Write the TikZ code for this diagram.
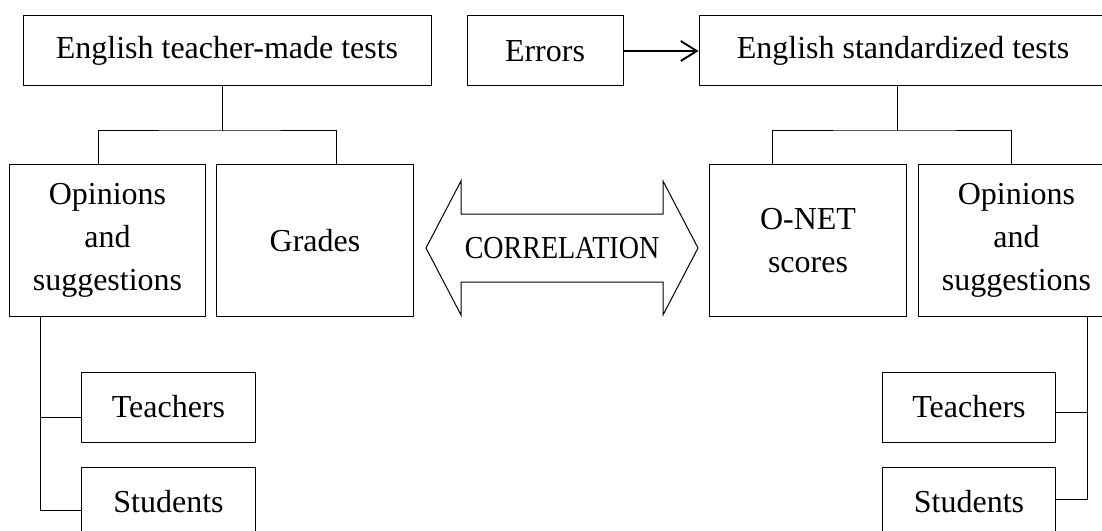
\documentclass[tikz,border=0pt]{standalone}
\usepackage{fontspec}
\usepackage{graphicx}
\setmainfont{Liberation Serif}
\usetikzlibrary{calc,arrows.meta}
\begin{document}
\begin{tikzpicture}[x=0.75pt,y=-0.75pt,
  box/.style={draw,line width=0.75pt,inner sep=0pt,align=center,
              font=\fontsize{24}{32}\selectfont},
  wide/.style={box,minimum width=306pt,minimum height=52.5pt},
  tall/.style={box,minimum width=147.5pt,minimum height=113.25pt},
  small/.style={box,minimum width=130pt,minimum height=52.5pt},
  link/.style={line width=0.75pt},
]
\useasboundingbox (0,0) rectangle (1102,531);
\clip (0,0) rectangle (1102,531);

% top row
\node[wide] (tl) at (227,51) {English teacher-made tests};
\node[box,minimum width=117pt,minimum height=52.5pt] (err) at (545,51) {Errors};
\node[wide] (tr) at (903,51) {English standardized tests};

% second row
\node[tall] (op1) at (107.5,240.5) {Opinions\\and\\suggestions};
\node[tall] (gr) at (315,240.5) {Grades};
\node[tall] (onet) at (808,240.5) {O-NET\\scores};
\node[tall] (op2) at (1016.5,240.5) {Opinions\\and\\suggestions};

% respondents
\node[small] (t1) at (168.5,407) {Teachers};
\node[small] (s1) at (168.5,502) {Students};
\node[small] (t2) at (969,407) {Teachers};
\node[small] (s2) at (969,502) {Students};

% errors feed the standardized tests
\draw[line width=1.4pt,-{Straight Barb[length=12pt,width=15pt,line width=1.4pt]}] (err) -- (tr);

% left tree
\coordinate (lj) at (222,131);
\draw[link] (tl.south -| lj) -- (lj);
\draw[link] ($(op1.north)+(-9.5,0)$) |- (lj) -| ($(gr.north)+(21,0)$);
\coordinate (lv) at ($(op1.south west)+(32,0)$);
\draw[link] (lv) |- ($(s1.west)+(0,8)$);
\draw[link] (lv |- t1.west) ++(0,10) -- ($(t1.west)+(0,10)$);

% right tree
\coordinate (rj) at (897,131);
\draw[link] (tr.south -| rj) -- (rj);
\draw[link] ($(onet.north)+(-36,0)$) |- (rj) -| ($(op2.north)+(-5.5,0)$);
\coordinate (rv) at ($(op2.south west)+(170,0)$);
\draw[link] (rv) |- ($(s2.east)+(0,-3)$);
\draw[link] (rv |- t2.east) ++(0,5) -- ($(t2.east)+(0,5)$);

% correlation double arrow
\node[font=\fontsize{24}{32}\selectfont,inner sep=0pt] (corr) at (562,248)
  {\scalebox{0.875}[1]{CORRELATION}};
\draw[link] (426,248) -- (461,181) -- (461,214) -- (663,214) -- (663,181)
  -- (698,248) -- (663,315) -- (663,282) -- (461,282) -- (461,315) -- cycle;
\end{tikzpicture}
\end{document}
